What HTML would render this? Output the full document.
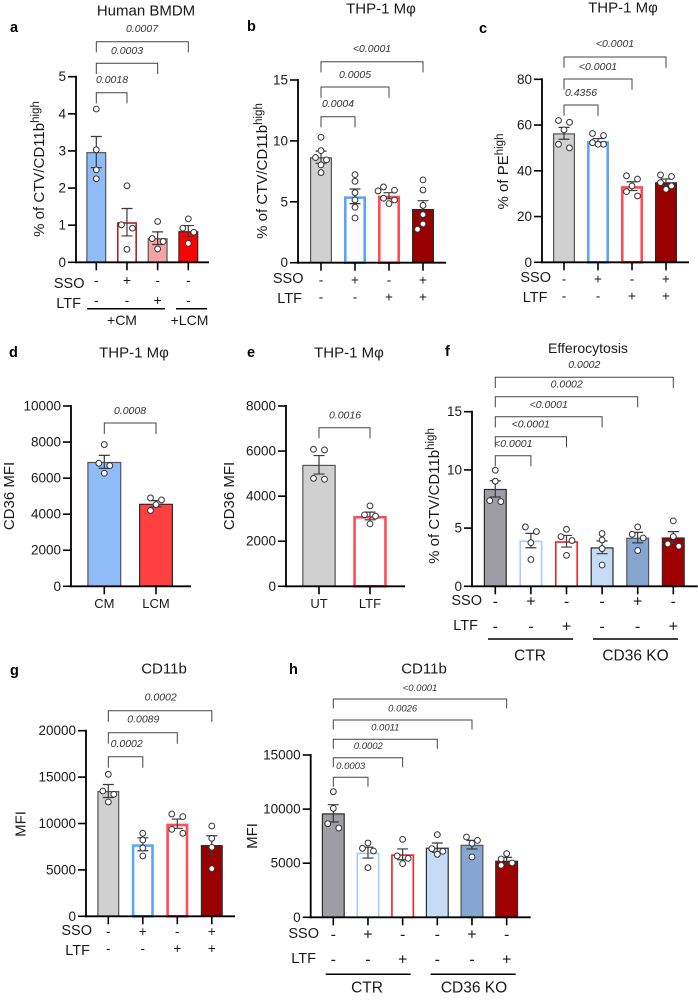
<!DOCTYPE html>
<html lang="en">
<head>
<meta charset="utf-8">
<title>Panels a-h</title>
<style>
html,body{margin:0;padding:0;background:#fff;}
svg{display:block;font-family:"Liberation Sans",Arial,sans-serif;fill:#1a1a1a;}
.title{font-size:15px;text-anchor:middle;dominant-baseline:central;}
.letter{font-size:14.5px;font-weight:bold;dominant-baseline:central;fill:#000;}
.ylab{font-size:15px;text-anchor:middle;}
.row{font-size:14.5px;text-anchor:end;dominant-baseline:central;}
.grp{font-size:14px;text-anchor:middle;dominant-baseline:central;}
.grpb{font-size:15.5px;text-anchor:middle;dominant-baseline:central;}
.rule{stroke:#000;stroke-width:1.5;}
</style>
</head>
<body>
<svg id="figure" xmlns="http://www.w3.org/2000/svg" width="698" height="1000" viewBox="0 0 698 1000">
  <rect x="0" y="0" width="698" height="1000" fill="#fff"/>

  <text class="letter" x="10" y="28">a</text>
  <text class="letter" x="247" y="27">b</text>
  <text class="letter" x="479" y="29">c</text>
  <text class="letter" x="9" y="353">d</text>
  <text class="letter" x="247" y="353">e</text>
  <text class="letter" x="445" y="352">f</text>
  <text class="letter" x="10" y="671">g</text>
  <text class="letter" x="289" y="670">h</text>

  <text class="title" x="146" y="11">Human BMDM</text>
  <text class="title" x="381" y="9">THP-1 Mφ</text>
  <text class="title" x="623" y="8">THP-1 Mφ</text>
  <text class="title" x="134" y="353">THP-1 Mφ</text>
  <text class="title" x="349" y="353">THP-1 Mφ</text>
  <text class="title" style="font-size:14px" x="588" y="348">Efferocytosis</text>
  <text class="title" x="164" y="669">CD11b</text>
  <text class="title" x="424" y="669">CD11b</text>

  <text class="ylab" transform="translate(44 169) rotate(-90)">% of CTV/CD11b<tspan dy="-5" font-size="11.5">high</tspan></text>
  <text class="ylab" transform="translate(267 171) rotate(-90)">% of CTV/CD11b<tspan dy="-5" font-size="11.5">high</tspan></text>
  <text class="ylab" transform="translate(508 171.5) rotate(-90)">% of PE<tspan dy="-5" font-size="11.5">high</tspan></text>
  <text class="ylab" transform="translate(14 496) rotate(-90)">CD36 MFI</text>
  <text class="ylab" transform="translate(234 496) rotate(-90)">CD36 MFI</text>
  <text class="ylab" transform="translate(439 496) rotate(-90)">% of CTV/CD11b<tspan dy="-5" font-size="11.5">high</tspan></text>
  <text class="ylab" transform="translate(25.5 824) rotate(-90)">MFI</text>
  <text class="ylab" transform="translate(257 836) rotate(-90)">MFI</text>

  <text class="row" x="84.5" y="284">SSO</text>
  <text class="row" x="81" y="304">LTF</text>
  <text class="row" x="303.5" y="279">SSO</text>
  <text class="row" x="302" y="299">LTF</text>
  <text class="row" x="551" y="278">SSO</text>
  <text class="row" x="547.5" y="298">LTF</text>
  <text class="row" x="482" y="601">SSO</text>
  <text class="row" x="478" y="626">LTF</text>
  <text class="row" x="92" y="931">SSO</text>
  <text class="row" x="90" y="951">LTF</text>
  <text class="row" x="319" y="934">SSO</text>
  <text class="row" x="316" y="959">LTF</text>

  <line class="rule" x1="87" x2="165" y1="308.7" y2="308.7"/>
  <line class="rule" x1="176" x2="207" y1="308.7" y2="308.7"/>
  <text class="grp" x="122" y="320">+CM</text>
  <text class="grp" x="189.5" y="320">+LCM</text>

  <line class="rule" x1="488" x2="573" y1="639" y2="639"/>
  <line class="rule" x1="593" x2="678" y1="639" y2="639"/>
  <text class="grpb" x="530" y="656">CTR</text>
  <text class="grpb" x="635.5" y="656">CD36 KO</text>

  <line class="rule" x1="325.7" x2="410.7" y1="974.3" y2="974.3"/>
  <line class="rule" x1="430.7" x2="515.7" y1="974.3" y2="974.3"/>
  <text class="grpb" x="367" y="988">CTR</text>
  <text class="grpb" x="474" y="988">CD36 KO</text>
</svg>

<script>
// ---- Panel a ----
const aCategories = ["CM", "CM SSO", "CM LTF", "LCM"];
const aMeans = [2.97, 1.08, 0.65, 0.84];
const aSems = [0.42, 0.37, 0.17, 0.15];
const aPoints = [[4.13, 3.03, 2.49, 2.25], [2.06, 1.01, 0.92, 0.35], [1.10, 0.64, 0.56, 0.36], [1.17, 0.92, 0.81, 0.51]];
const aTicks = [0, 1, 2, 3, 4, 5];
const aSso = ["-", "+", "-", "-"];
const aLtf = ["-", "-", "+", "-"];
const aPvalues = ["0.0018", "0.0003", "0.0007"];

// ---- Panel b ----
const bCategories = ["Control", "SSO", "LTF", "SSO LTF"];
const bMeans = [8.66, 5.45, 5.5, 4.41];
const bSems = [0.5, 0.6, 0.25, 0.68];
const bPoints = [[10.3, 9.2, 8.63, 8.44, 8.03, 7.4], [7.23, 6.68, 5.75, 5.15, 4.55, 3.67], [6.22, 5.95, 5.89, 5.29, 5.15, 4.85], [6.8, 5.97, 4.7, 3.95, 3.18, 2.74]];
const bTicks = [0, 5, 10, 15];
const bSso = ["-", "+", "-", "+"];
const bLtf = ["-", "-", "+", "+"];
const bPvalues = ["0.0004", "0.0005", "<0.0001"];

// ---- Panel c ----
const cCategories = ["Control", "SSO", "LTF", "SSO LTF"];
const cMeans = [56.4, 53, 33.3, 35];
const cSems = [2.6, 1.1, 1.9, 1.4];
const cPoints = [[62, 61.2, 57.9, 51.6, 50], [56.3, 55.4, 52.3, 51.6, 51.6], [37.8, 36.4, 33.4, 30.9, 29], [38.2, 37.5, 34.8, 33.4, 31.9]];
const cTicks = [0, 20, 40, 60, 80];
const cSso = ["-", "+", "-", "+"];
const cLtf = ["-", "-", "+", "+"];
const cPvalues = ["0.4356", "<0.0001", "<0.0001"];

// ---- Panel d ----
const dCategories = ["CM", "LCM"];
const dMeans = [6900, 4580];
const dSems = [360, 170];
const dPoints = [[7860, 6820, 6690, 6270], [4900, 4790, 4530, 4200]];
const dTicks = [0, 2000, 4000, 6000, 8000, 10000];
const dPvalues = ["0.0008"];

// ---- Panel e ----
const eCategories = ["UT", "LTF"];
const eMeans = [5390, 3120];
const eSems = [410, 170];
const ePoints = [[6080, 6050, 4790, 4750], [3570, 3170, 3110, 2770]];
const eTicks = [0, 2000, 4000, 6000, 8000];
const ePvalues = ["0.0016"];

// ---- Panel f ----
const fCategories = ["CTR", "CTR SSO", "CTR LTF", "KO", "KO SSO", "KO LTF"];
const fMeans = [8.37, 3.93, 3.87, 3.35, 4.18, 4.2];
const fSems = [0.7, 0.62, 0.5, 0.55, 0.45, 0.5];
const fPoints = [[9.97, 9.03, 7.36, 7.28], [5.1, 4.7, 3.75, 2.3], [4.9, 4.27, 3.93, 2.66], [4.53, 3.98, 3.24, 1.83], [5.1, 4.47, 4.15, 3.07], [5.62, 4.27, 3.64, 3.44]];
const fTicks = [0, 5, 10, 15];
const fSso = ["-", "+", "-", "-", "+", "-"];
const fLtf = ["-", "-", "+", "-", "-", "+"];
const fPvalues = ["<0.0001", "<0.0001", "<0.0001", "0.0002", "0.0002"];

// ---- Panel g ----
const gCategories = ["Control", "SSO", "LTF", "SSO LTF"];
const gMeans = [13500, 7760, 9980, 7680];
const gSems = [700, 700, 500, 1000];
const gPoints = [[15300, 13500, 13140, 12320], [8940, 8220, 7360, 6500], [11020, 10740, 9370, 8940], [9730, 8400, 7430, 5130]];
const gTicks = [0, 5000, 10000, 15000, 20000];
const gSso = ["-", "+", "-", "+"];
const gLtf = ["-", "-", "+", "+"];
const gPvalues = ["0.0002", "0.0089", "0.0002"];

// ---- Panel h ----
const hCategories = ["CTR", "CTR SSO", "CTR LTF", "KO", "KO SSO", "KO LTF"];
const hMeans = [9610, 5975, 5820, 6440, 6710, 5235];
const hSems = [800, 500, 500, 430, 400, 300];
const hPoints = [[11610, 10070, 8650, 8250], [6870, 6375, 6130, 4590], [7200, 5670, 5450, 4960], [7640, 6340, 6100, 5820], [7420, 7110, 6840, 5570], [5880, 5390, 5020, 4800]];
const hTicks = [0, 5000, 10000, 15000];
const hSso = ["-", "+", "-", "-", "+", "-"];
const hLtf = ["-", "-", "+", "-", "-", "+"];
const hPvalues = ["0.0003", "0.0002", "0.0011", "0.0026", "<0.0001"];

const SVG_NS = "http://www.w3.org/2000/svg";
const figure = document.getElementById("figure");

function mk(tag, attrs, parent, text) {
  const node = document.createElementNS(SVG_NS, tag);
  for (const key in attrs) node.setAttribute(key, attrs[key]);
  if (text !== undefined) node.textContent = text;
  parent.appendChild(node);
  return node;
}

// Lays out overlapping points side by side, the way a scatter-dot bar plot does.
function swarm(values, yScale, spacing) {
  const dia = 6.5;
  const sorted = values.slice().sort(function (p, q) { return q - p; });
  const placed = [];
  const free = function (dx, py) {
    return placed.every(function (o) { return Math.hypot(o.dx - dx, o.py - py) >= dia * 0.95; });
  };
  for (let i = 0; i < sorted.length; i++) {
    const py = yScale(sorted[i]);
    const nextY = i + 1 < sorted.length ? yScale(sorted[i + 1]) : null;
    if (nextY !== null && Math.abs(nextY - py) < dia * 0.8 && free(-spacing, py) && free(spacing, nextY)) {
      placed.push({ dx: -spacing, py: py });
      placed.push({ dx: spacing, py: nextY });
      i++;
      continue;
    }
    const options = [0, -spacing, spacing, -2 * spacing, 2 * spacing];
    let chosen = 0;
    for (const c of options) {
      if (free(c, py)) { chosen = c; break; }
    }
    placed.push({ dx: chosen, py: py });
  }
  return placed;
}

function drawPanel(cfg) {
  const yScale = function (v) { return cfg.y0 - (v / cfg.yMax) * (cfg.y0 - cfg.yTop); };
  const xScale = function (i) { return cfg.cx0 + i * cfg.step; };

  const group = mk("g", {}, figure);
  
  

  cfg.means.forEach(function (mean, i) {
    const sw = cfg.strokeW[i];
    const bar = mk("rect", {
      x: xScale(i) - cfg.barW / 2 + sw / 2,
      y: yScale(mean) + sw / 2,
      width: cfg.barW - sw,
      height: Math.max(0, cfg.y0 - yScale(mean) - sw / 2),
      fill: cfg.fills[i],
      stroke: cfg.strokes[i],
      "stroke-width": sw
    }, group);
    
    
  });

  cfg.means.forEach(function (mean, i) {
    const cx = xScale(i);
    const top = yScale(mean + cfg.sems[i]);
    const bot = yScale(mean - cfg.sems[i]);
    const err = mk("path", {
      d: "M" + (cx - 5.5) + " " + top + "H" + (cx + 5.5) + "M" + cx + " " + top + "V" + bot + "M" + (cx - 5.5) + " " + bot + "H" + (cx + 5.5),
      fill: "none",
      stroke: "#3a3a3a",
      "stroke-width": 1.2
    }, group);
    
    
  });

  cfg.points.forEach(function (values, i) {
    swarm(values, yScale, cfg.spread || 5.5).forEach(function (p, k) {
      const dot = mk("circle", {
        cx: xScale(i) + p.dx,
        cy: p.py,
        r: 2.9,
        fill: "#fff",
        stroke: "#333",
        "stroke-width": 1
      }, group);
      
      
    });
  });

  const yAxis = mk("line", { x1: cfg.x0, x2: cfg.x0, y1: cfg.yTop - 1, y2: cfg.y0 + 1, stroke: "#000", "stroke-width": 1.8 }, group);
  
  

  const xAxis = mk("line", { x1: cfg.x0, x2: cfg.xEnd, y1: cfg.y0, y2: cfg.y0, stroke: "#000", "stroke-width": 1.8 }, group);
  
  

  cfg.ticks.forEach(function (t) {
    const tick = mk("line", { x1: cfg.x0 - 8, x2: cfg.x0, y1: yScale(t), y2: yScale(t), stroke: "#000", "stroke-width": 1.6 }, group);
    
    
    const lab = mk("text", { x: cfg.x0 - 10, y: yScale(t), "font-size": 13.5, "text-anchor": "end", "dominant-baseline": "central" }, group, String(t));
    
    
  });

  cfg.means.forEach(function (mean, i) {
    const tick = mk("line", { x1: xScale(i), x2: xScale(i), y1: cfg.y0, y2: cfg.y0 + 8, stroke: "#000", "stroke-width": 1.6 }, group);
    
    
  });

  if (cfg.showCategories) {
    cfg.categories.forEach(function (c, i) {
      const lab = mk("text", { x: xScale(i), y: cfg.y0 + 17, "font-size": 13, "text-anchor": "middle", "dominant-baseline": "central" }, group, c);
      
      
    });
  }

  if (cfg.sso) {
    cfg.sso.forEach(function (s, i) {
      const sign = mk("text", { x: xScale(i), y: cfg.signY[0], "font-size": cfg.signSize, "text-anchor": "middle", "dominant-baseline": "central" }, group, s);
      
      
    });
    cfg.ltf.forEach(function (s, i) {
      const sign = mk("text", { x: xScale(i), y: cfg.signY[1], "font-size": cfg.signSize, "text-anchor": "middle", "dominant-baseline": "central" }, group, s);
      
      
    });
  }

  cfg.pvalues.forEach(function (p, i) {
    const top = cfg.bracketTops[i];
    const x1 = xScale(0);
    const x2 = xScale(i + 1);
    const bracket = mk("path", {
      d: "M" + x1 + " " + (top + cfg.drop) + "V" + top + "H" + x2 + "V" + (top + cfg.drop),
      fill: "none",
      stroke: "#444",
      "stroke-width": 1
    }, group);
    
    
    const lab = mk("text", {
      x: cfg.labelX[i],
      y: cfg.labelY[i],
      "font-size": cfg.pFont,
      "font-style": "italic",
      fill: "#333",
      "text-anchor": "middle",
      "dominant-baseline": "central"
    }, group, p);
    
    
  });
}

const dark = "#2b2b2b";
const mid = "#555";

drawPanel({ id: "a", x0: 76, xEnd: 209, y0: 262.3, yTop: 76.7, yMax: 5, cx0: 96.3, step: 30.67, barW: 20,
  categories: aCategories, means: aMeans, sems: aSems, points: aPoints, ticks: aTicks, sso: aSso, ltf: aLtf, pvalues: aPvalues,
  fills: ["#8fbcf8", "#fff", "#f8a3a3", "#ff0000"], strokes: [mid, "#b3202a", mid, dark], strokeW: [1.2, 1.6, 1.2, 1.2],
  signY: [280, 300], signSize: 14, pFont: 10.5, bracketTops: [92.7, 63.3, 41.7], drop: 10.7,
  labelX: [112, 127, 142], labelY: [80, 51, 29] });

drawPanel({ id: "b", x0: 298, xEnd: 446, y0: 262.7, yTop: 80, yMax: 15, cx0: 321, step: 34, barW: 22,
  categories: bCategories, means: bMeans, sems: bSems, points: bPoints, ticks: bTicks, sso: bSso, ltf: bLtf, pvalues: bPvalues,
  fills: ["#d0d0d0", "#fff", "#fff", "#990000"], strokes: [mid, "#5aa5f5", "#ff4d55", dark], strokeW: [1.2, 2.6, 2.6, 1.2],
  signY: [280, 297], signSize: 13.5, pFont: 10.5, bracketTops: [116.7, 87, 61.7], drop: 10.7,
  labelX: [338, 355, 372], labelY: [104, 75, 49] });

drawPanel({ id: "c", x0: 542, xEnd: 689, y0: 262.3, yTop: 79.3, yMax: 80, cx0: 564, step: 34, barW: 22,
  categories: cCategories, means: cMeans, sems: cSems, points: cPoints, ticks: cTicks, sso: cSso, ltf: cLtf, pvalues: cPvalues,
  fills: ["#d0d0d0", "#fff", "#fff", "#990000"], strokes: [mid, "#5aa5f5", "#ff4d55", dark], strokeW: [1.2, 2.6, 2.6, 1.2],
  signY: [279, 296], signSize: 13.5, pFont: 10.5, bracketTops: [105, 79, 57], drop: 10.7,
  labelX: [581, 598, 615], labelY: [93, 67, 44] });

drawPanel({ id: "d", x0: 71, xEnd: 191, y0: 586.3, yTop: 406, yMax: 10000, cx0: 104.3, step: 51.7, barW: 34,
  categories: dCategories, means: dMeans, sems: dSems, points: dPoints, ticks: dTicks, pvalues: dPvalues, showCategories: true,
  fills: ["#8fbcf8", "#ff4040"], strokes: [mid, dark], strokeW: [1.2, 1.2],
  pFont: 10.5, bracketTops: [423], drop: 11, labelX: [130], labelY: [411] });

drawPanel({ id: "e", x0: 286, xEnd: 405, y0: 586.3, yTop: 406, yMax: 8000, cx0: 319, step: 51, barW: 33.5,
  categories: eCategories, means: eMeans, sems: eSems, points: ePoints, ticks: eTicks, pvalues: ePvalues, showCategories: true,
  fills: ["#d0d0d0", "#fff"], strokes: [mid, "#ff4d55"], strokeW: [1.2, 2.6],
  pFont: 10.5, bracketTops: [427.7], drop: 10.7, labelX: [345], labelY: [415.7] });

drawPanel({ id: "f", x0: 472, xEnd: 697.7, y0: 586.3, yTop: 411.7, yMax: 15, cx0: 495.3, step: 35.6, barW: 23,
  categories: fCategories, means: fMeans, sems: fSems, points: fPoints, ticks: fTicks, sso: fSso, ltf: fLtf, pvalues: fPvalues,
  fills: ["#9d9da3", "#fff", "#fff", "#c5dbf6", "#84a6d1", "#a00000"], strokes: [dark, "#a9cdf9", "#f22222", dark, mid, dark], strokeW: [1.2, 1.6, 1.6, 1.2, 1.2, 1.2],
  signY: [602, 627], signSize: 16, pFont: 10.5, bracketTops: [455.7, 436.7, 416.7, 396.7, 377.3], drop: 10.7,
  labelX: [513.3, 530.7, 548.7, 566.7, 584.3], labelY: [444, 424.7, 405, 384.7, 365] });

drawPanel({ id: "g", x0: 86, xEnd: 235, y0: 916.3, yTop: 730.7, yMax: 20000, cx0: 108.3, step: 34.5, barW: 22,
  categories: gCategories, means: gMeans, sems: gSems, points: gPoints, ticks: gTicks, sso: gSso, ltf: gLtf, pvalues: gPvalues,
  fills: ["#d0d0d0", "#fff", "#fff", "#990000"], strokes: [mid, "#5aa5f5", "#ff4d55", dark], strokeW: [1.2, 2.6, 2.6, 1.2],
  signY: [931.7, 948.7], signSize: 13.5, pFont: 10.5, bracketTops: [756.7, 732.7, 710.7], drop: 11,
  labelX: [126.7, 143.3, 160.7], labelY: [744, 719.3, 697.7] });

drawPanel({ id: "h", x0: 310.7, xEnd: 530.7, y0: 917.3, yTop: 755, yMax: 15000, cx0: 333.3, step: 34.67, barW: 23,
  categories: hCategories, means: hMeans, sems: hSems, points: hPoints, ticks: hTicks, sso: hSso, ltf: hLtf, pvalues: hPvalues,
  fills: ["#9d9da3", "#fff", "#fff", "#c5dbf6", "#84a6d1", "#a00000"], strokes: [dark, "#a9cdf9", "#f22222", dark, mid, dark], strokeW: [1.2, 1.6, 1.6, 1.2, 1.2, 1.2],
  signY: [935, 960], signSize: 16, pFont: 9.5, bracketTops: [777.3, 757.7, 739.3, 720, 699], drop: 9.5,
  labelX: [350.7, 368.3, 385.3, 402.7, 420], labelY: [766.3, 746.3, 728, 709, 688.3] });
</script>
</body>
</html>
